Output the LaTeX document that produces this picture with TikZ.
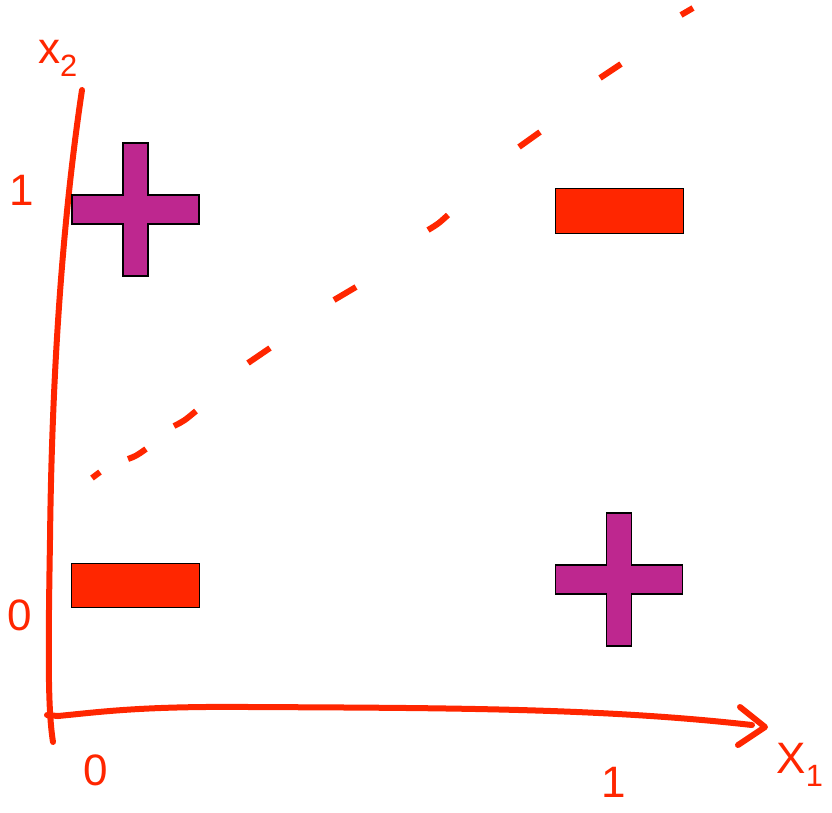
\documentclass[tikz,border=0pt]{standalone}
\usepackage{fontspec}
\setsansfont{Liberation Sans}
\definecolor{pen}{HTML}{FF2600}
\definecolor{plusc}{HTML}{BE278F}
\definecolor{minusc}{HTML}{FF2600}
\begin{document}
\begin{tikzpicture}[x=1pt,y=-1pt,
  stroke/.style={pen,line width=6pt,line cap=round,line join=round},
  dashstroke/.style={pen,line width=6pt,line cap=butt},
  symb/.style={draw=black,line width=1.3pt},
  lbl/.style={text=pen,font=\sffamily\fontsize{44}{44}\selectfont,inner sep=0pt}]
\useasboundingbox (0,0) rectangle (832,812);
% axes
\draw[stroke] (82,90) .. controls (64,210) and (52,360) .. (50,540) .. controls (48,660) and (48,710) .. (53,742);
\draw[stroke] (47,715) -- (58,716) .. controls (100,712) and (140,706) .. (250,707) .. controls (450,708) and (600,708) .. (752,725);
\draw[stroke] (740,707) -- (765,727) -- (738,745);
% dashed separator
\draw[dashstroke] (92,478) -- (100,472);
\draw[dashstroke] (128,459) .. controls (136,456) .. (146,449);
\draw[dashstroke] (174,426) .. controls (184,421) .. (196,411);
\draw[dashstroke] (248,363) -- (270,348);
\draw[dashstroke] (334,300) .. controls (345,294) .. (356,287);
\draw[dashstroke] (428,230) .. controls (438,224) .. (448,215);
\draw[dashstroke] (519,147) -- (540,132);
\draw[dashstroke] (600,78) -- (621,64);
\draw[dashstroke] (681,15) -- (693,8);
% plus symbols
\coordinate (p1) at (135.5,209.5);
\coordinate (p2) at (619,579.5);
\foreach \p in {p1,p2}{
  \draw[symb,fill=plusc] ([shift={(-12.5,-66.5)}]\p) -- ++(25,0) -- ++(0,52) -- ++(51,0) -- ++(0,29) -- ++(-51,0) -- ++(0,52) -- ++(-25,0) -- ++(0,-52) -- ++(-51,0) -- ++(0,-29) -- ++(51,0) -- cycle;
}
% minus symbols
\node[symb,fill=minusc,minimum width=128pt,minimum height=45pt,inner sep=0pt,anchor=north west] (m1) at (555,188) {};
\node[symb,fill=minusc,minimum width=128pt,minimum height=44pt,inner sep=0pt,anchor=north west] (m2) at (71,563) {};
% labels
\node[lbl] (x2) at (58,58) {x$_{\mathsf 2}$};
\node[lbl] (x1) at (800,765) {X$_{\mathsf 1}$};
\node[lbl] (y1) at (22,190) {1};
\node[lbl] (y0) at (20,615) {0};
\node[lbl] (o0) at (96,770) {0};
\node[lbl] (x1t) at (614,782) {1};
\end{tikzpicture}
\end{document}
